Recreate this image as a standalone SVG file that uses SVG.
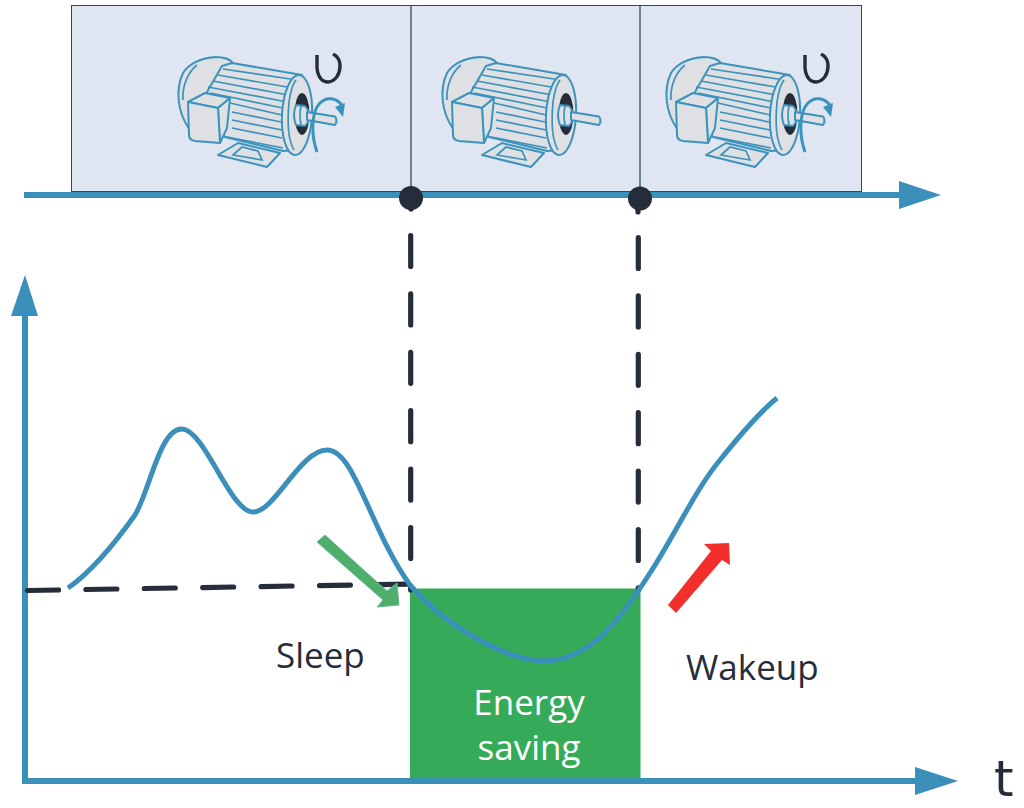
<svg xmlns="http://www.w3.org/2000/svg" xmlns:xlink="http://www.w3.org/1999/xlink" width="1024" height="808" viewBox="0 0 1024 808">
<style>
.axis{fill:none;stroke:#3a8fbb;stroke-width:6}
.head{fill:#3a8fbb}
.dash{fill:none;stroke:#252d3b;stroke-width:5.200;stroke-linecap:round}
.m{fill:#dfe0e3;stroke:#3a93bd;stroke-width:2;stroke-linejoin:round}
.r{fill:none;stroke:#3a93bd;stroke-width:1.700}
.t{font-family:"Open Sans","Noto Sans",sans-serif;font-size:35px;fill:#252d3b}
</style>
<defs>
<g id="motor">
<path class="m" d="M188 127C178 112 175 90 183 73C190 62 204 58 215 57C224 57 230 59 233 63L225 137Z"/>
<path class="r" d="M183 100C182 86 188 72 197 65"/>
<path class="m" d="M222 66L232 63L302 75L297 150L283 151L225 137L205 100L207 92Z"/>
<path class="r" d="M223 69L297 80M218 75L293 88M213 81L288 95M208 87L287 102M210 93L283 108M230 103L282 115M232 112L281 122M232 120L282 130M232 128L282 138M227 137L283 148"/>
<path class="m" d="M218 155L238 143L280 153L267 167Z"/>
<path class="r" d="M233 155L242 147L258 151L262 160Z"/>
<path class="m" d="M188 102L205 93L230 98L218 108Z"/>
<path class="m" d="M218 108L230 98L227 128L220 143Z"/>
<path class="m" d="M188 102L218 108L220 143L195 141Q189 140 189 135Z"/>
<ellipse class="m" cx="297" cy="115" rx="15" ry="40" transform="rotate(3 297 115)"/>
<path class="r" d="M296 80C287 92 285 135 294 150"/>
<ellipse cx="302" cy="114" rx="7.500" ry="21" fill="#252d3b"/>
<path class="m" d="M296 105L305 106L308 110L308 122L305 126L296 125Q292 115 296 105Z"/>
<path class="r" d="M301 106Q299 115 301 125"/>
<path class="m" d="M307 112L335 116.500Q338 120.500 335 125L307 120Z"/>
</g>
<g id="spin">
<path d="M317 152C311 135 311 112 320 103C327 96 336 98 342 105" fill="none" stroke="#3a93bd" stroke-width="3"/>
<path d="M335 107L345 103L343 117Z" fill="#3a93bd"/>
</g>
<path id="u" d="M317 55L317 68C318 78 323 82 328 82C336 81 340 74 340 66C340 60 337 56 333 54" fill="none" stroke="#252d3b" stroke-width="3.400"/>
</defs>
<rect width="1024" height="808" fill="#fff"/>
<g id="panel">
<rect x="71.500" y="5.500" width="790" height="186" fill="#dfe5f1" stroke="#1f4f6b" stroke-width="1"/>
<path d="M411 5V195M640 5V195" stroke="#1f3f55" stroke-width="1.200" fill="none"/>
</g>
<g id="motor1"><use xlink:href="#motor" href="#motor"/><use xlink:href="#spin" href="#spin"/><use xlink:href="#u" href="#u"/></g>
<g id="motor2" transform="translate(264 0)"><use xlink:href="#motor" href="#motor"/></g>
<g id="motor3" transform="translate(488 0)"><use xlink:href="#motor" href="#motor"/><use xlink:href="#spin" href="#spin"/><use xlink:href="#u" href="#u"/></g>
<g id="energy-saving">
<path d="M410 588.500H640.500V778H410Z" fill="#35ab5a"/>
<text x="529" y="715" text-anchor="middle" class="t" style="fill:#fff">Energy</text>
<text x="529" y="760" text-anchor="middle" class="t" style="fill:#fff">saving</text>
</g>
<g id="connectors">
<path class="axis" d="M24 195H902"/>
<path class="head" d="M899 181L941 195L899 209Z"/>
<path class="axis" d="M25 781V312"/>
<path class="head" d="M11 316L25 275L38 316Z"/>
<path class="axis" d="M22 781H918"/>
<path class="head" d="M915 767L958 781L915 795Z"/>
<path class="dash" d="M410.700 235.500V590" stroke-dasharray="31 27.400"/>
<path class="dash" d="M638.300 237.500V590" stroke-dasharray="31 27.400"/>
<path class="dash" d="M27.500 590.500L411 584" stroke-dasharray="31 27.400"/>
<path d="M411 205V209M638 205V212" class="dash"/>
<circle cx="411" cy="198" r="12" fill="#252d3b"/>
<circle cx="640" cy="198.500" r="12" fill="#252d3b"/>
<path d="M68 588C90 573 115 543 135 515C150 490 160 428 182 429C205 430 230 512 253 512C275 512 300 450 327 450C355 450 370 530 410 585C440 620 500 660 545 661C590 660 620 620 650 573C675 535 695 490 720 460C740 435 760 412 777 398" fill="none" stroke="#3a8fbb" stroke-width="5"/>
<path d="M325 535L387 591L397 583L399 605L377 607L383 600L317 542Z" fill="#4fae6a" stroke="#6cb9a0" stroke-width="1"/>
<path d="M668 605L711 551L704 544L729 543L730 565L722 560L676 613Z" fill="#f22f2b"/>
</g>
<g id="labels">
<text x="276" y="668" class="t">Sleep</text>
<text x="686" y="680" class="t">Wakeup</text>
<text x="994" y="796" style="font-family:'DejaVu Sans',sans-serif;font-size:50px;fill:#252d3b">t</text>
</g>
</svg>
